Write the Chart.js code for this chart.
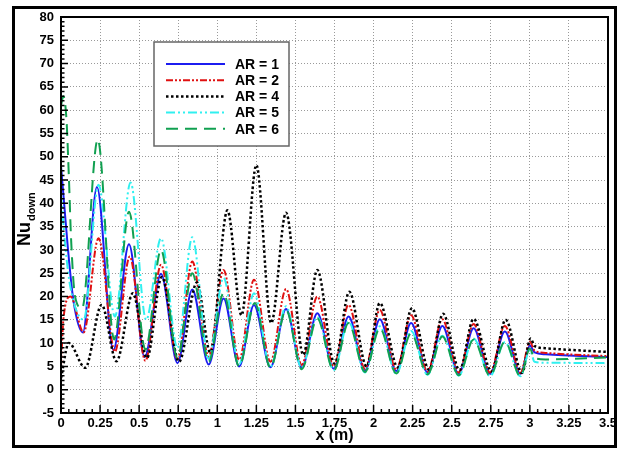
<!DOCTYPE html>
<html>
<head>
<meta charset="utf-8">
<script src="https://cdn.jsdelivr.net/npm/chart.js@4.4.1/dist/chart.umd.min.js"></script>
<style>
html, body { margin: 0; padding: 0; background: #fff; }
#wrap { width: 623px; height: 449px; }
</style>
</head>
<body>
<div id="wrap"><canvas id="chart" width="623" height="449"></canvas></div>
<script>
// values: x (m) vs Nu_down, peaks and troughs
const ar1X = [0, 0.02, 0.045, 0.08, 0.14, 0.23, 0.335, 0.435, 0.535, 0.64, 0.745, 0.84, 0.945, 1.04, 1.14, 1.235, 1.34, 1.44, 1.54, 1.64, 1.745, 1.84, 1.945, 2.04, 2.145, 2.24, 2.345, 2.44, 2.545, 2.64, 2.745, 2.84, 2.94, 3.0, 3.03, 3.1, 3.5];
const ar1Y = [48, 40, 30, 19, 12.3, 43.5, 8.5, 31.2, 7, 24.9, 5.7, 21.5, 5.4, 19.6, 5, 18.2, 4.8, 17.3, 4.7, 16.4, 4.5, 15.7, 4.1, 15.1, 4, 14.3, 3.7, 13.7, 3.4, 13.2, 3.4, 12.5, 3.4, 9.5, 8.0, 7.6, 7.0];

const ar2X = [0, 0.015, 0.06, 0.145, 0.24, 0.345, 0.44, 0.54, 0.64, 0.745, 0.84, 0.945, 1.04, 1.14, 1.235, 1.34, 1.44, 1.54, 1.64, 1.745, 1.84, 1.945, 2.04, 2.145, 2.24, 2.345, 2.44, 2.545, 2.64, 2.745, 2.84, 2.94, 3.0, 3.03, 3.1, 3.5];
const ar2Y = [5, 15, 20, 12.3, 32.5, 8.2, 28.6, 6.2, 26.8, 6.6, 27.5, 7.1, 25.7, 6.4, 23.6, 6, 21.6, 5.3, 20, 5, 18.2, 4.5, 17.1, 4.3, 16, 3.9, 15.1, 3.7, 14.1, 3.7, 13.7, 3.6, 10.3, 8.4, 7.9, 7.2];

const ar4X = [0, 0.05, 0.155, 0.26, 0.355, 0.46, 0.55, 0.645, 0.755, 0.87, 0.955, 1.065, 1.155, 1.25, 1.345, 1.44, 1.55, 1.64, 1.75, 1.845, 1.955, 2.04, 2.155, 2.245, 2.355, 2.445, 2.55, 2.64, 2.755, 2.845, 2.95, 3.005, 3.03, 3.1, 3.5];
const ar4Y = [2.5, 10, 4.7, 18.2, 6.1, 20.7, 6.8, 24.2, 6, 23, 8, 38.5, 16, 48.2, 14.3, 38, 7.5, 25.7, 5.6, 21, 5, 18.6, 4.8, 17.5, 4.3, 16.3, 4.2, 15.2, 3.9, 15, 3.6, 11, 9.4, 8.9, 8.1];

const ar5X = [0, 0.03, 0.06, 0.145, 0.24, 0.345, 0.445, 0.545, 0.64, 0.745, 0.84, 0.945, 1.04, 1.14, 1.235, 1.34, 1.44, 1.54, 1.64, 1.745, 1.84, 1.945, 2.04, 2.145, 2.24, 2.345, 2.44, 2.545, 2.64, 2.745, 2.84, 2.94, 3.0, 3.03, 3.1, 3.5];
const ar5Y = [42, 30, 22, 15, 44, 15.7, 44.5, 15, 32.5, 9, 32.7, 6.6, 24, 5.5, 20.7, 5, 17.9, 4.7, 15.6, 4.2, 14.6, 3.7, 13.6, 3.4, 12.6, 3.2, 11.6, 3, 11, 2.9, 10.2, 2.9, 8.5, 6, 5.8, 5.7];

const ar6X = [0, 0.015, 0.035, 0.05, 0.065, 0.09, 0.135, 0.235, 0.34, 0.435, 0.54, 0.64, 0.745, 0.84, 0.945, 1.04, 1.14, 1.24, 1.34, 1.44, 1.54, 1.64, 1.745, 1.84, 1.945, 2.04, 2.145, 2.24, 2.345, 2.44, 2.545, 2.64, 2.745, 2.84, 2.94, 3.0, 3.03, 3.1, 3.5];
const ar6Y = [61, 63, 58, 46, 32, 20, 17.5, 53.7, 10.8, 38.2, 8.6, 30, 6.8, 25, 6, 20.7, 5, 18.6, 4.7, 17.1, 4.4, 15.3, 4.1, 14.3, 3.8, 13.2, 3.5, 12.1, 3.3, 11.4, 3.1, 10.8, 3, 10.3, 2.9, 8.8, 6.8, 6.5, 6.9];

const seriesNames = ['AR = 1', 'AR = 2', 'AR = 4', 'AR = 5', 'AR = 6'];
const xTickLabels = ['0', '0.25', '0.5', '0.75', '1', '1.25', '1.5', '1.75', '2', '2.25', '2.5', '2.75', '3', '3.25', '3.5'];

const FONT = '"Liberation Sans", Arial, sans-serif';

function pts(xs, ys) {
    return xs.map((x, i) => ({ x: x, y: ys[i] }));
}

function lineSet(label, xs, ys, color, dash, width, order) {
    return {
        label: label,
        data: pts(xs, ys),
        borderColor: color,
        borderWidth: width,
        borderDash: dash,
        pointRadius: 0,
        fill: false,
        cubicInterpolationMode: 'monotone',
        order: order
    };
}

// frame, inward ticks, axis titles and the boxed legend
const decor = {
    id: 'decor',
    afterDraw(chart) {
        const ctx = chart.ctx;
        const a = chart.chartArea;
        const x = chart.scales.x, y = chart.scales.y;
        ctx.save();

        ctx.strokeStyle = '#000';
        ctx.lineWidth = 3;
        ctx.strokeRect(13.5, 7.5, 602, 439);

        ctx.lineWidth = 2;
        ctx.strokeRect(a.left, a.top, a.right - a.left, a.bottom - a.top);

        ctx.lineWidth = 1.5;
        ctx.beginPath();
        for (let i = 0; i <= 70; i++) {
            const px = x.getPixelForValue(i * 0.05);
            const len = i % 5 === 0 ? 8 : 4;
            ctx.moveTo(px, a.bottom);
            ctx.lineTo(px, a.bottom - len);
        }
        for (let v = -5; v <= 80; v++) {
            const py = y.getPixelForValue(v);
            const len = v % 5 === 0 ? 7 : 3.5;
            ctx.moveTo(a.left, py);
            ctx.lineTo(a.left + len, py);
        }
        ctx.stroke();

        ctx.fillStyle = '#000';
        ctx.font = 'bold 16px ' + FONT;
        ctx.textAlign = 'center';
        ctx.textBaseline = 'middle';
        ctx.fillText('x (m)', (a.left + a.right) / 2, 436);

        ctx.save();
        ctx.translate(30, 246);
        ctx.rotate(-Math.PI / 2);
        ctx.textAlign = 'left';
        ctx.textBaseline = 'alphabetic';
        ctx.font = 'bold 18px ' + FONT;
        ctx.fillText('Nu', 0, 0);
        const w = ctx.measureText('Nu').width;
        ctx.font = 'bold 11px ' + FONT;
        ctx.fillText('down', w + 1, 5);
        ctx.restore();

        // legend
        ctx.fillStyle = '#fff';
        ctx.fillRect(154, 42, 135, 104);
        ctx.strokeStyle = '#666';
        ctx.lineWidth = 1.5;
        ctx.strokeRect(154, 42, 135, 104);
        chart.data.datasets.forEach((ds, i) => {
            const ly = 64 + i * 16.2;
            ctx.strokeStyle = ds.borderColor;
            ctx.lineWidth = ds.borderWidth;
            ctx.setLineDash(ds.borderDash || []);
            ctx.beginPath();
            ctx.moveTo(166, ly);
            ctx.lineTo(225, ly);
            ctx.stroke();
            ctx.setLineDash([]);
            ctx.fillStyle = '#000';
            ctx.font = 'bold 14px ' + FONT;
            ctx.textAlign = 'left';
            ctx.textBaseline = 'middle';
            ctx.fillText(ds.label, 235, ly + 1);
        });

        ctx.restore();
    }
};

const tickFont = { family: FONT, size: 13, weight: 'bold' };

new Chart(document.getElementById('chart'), {
    type: 'line',
    data: {
        datasets: [
            lineSet(seriesNames[0], ar1X, ar1Y, '#1c1cf0', [], 2, 5),
            lineSet(seriesNames[1], ar2X, ar2Y, '#e01010', [7, 2, 2, 2, 2, 2], 2, 4),
            lineSet(seriesNames[2], ar4X, ar4Y, '#000000', [2.5, 2.5], 2.5, 3),
            lineSet(seriesNames[3], ar5X, ar5Y, '#30f0f0', [9, 3, 2, 3, 2, 3], 2, 2),
            lineSet(seriesNames[4], ar6X, ar6Y, '#10a050', [12, 7], 2, 1)
        ]
    },
    options: {
        responsive: false,
        animation: false,
        layout: { padding: { left: 0, top: 17, right: 15, bottom: 0 } },
        plugins: {
            legend: { display: false },
            tooltip: { enabled: false }
        },
        scales: {
            x: {
                type: 'linear',
                min: 0,
                max: 3.5,
                ticks: {
                    stepSize: 0.25,
                    autoSkip: false,
                    maxRotation: 0,
                    padding: 3,
                    color: '#000',
                    font: tickFont,
                    callback: (v, i) => xTickLabels[i]
                },
                grid: { color: '#9a9a9a', lineWidth: 1, drawTicks: false },
                border: { display: false, dash: [1, 2] },
                afterFit: s => { s.height = 36; }
            },
            y: {
                min: -5,
                max: 80,
                ticks: {
                    stepSize: 5,
                    padding: 7,
                    color: '#000',
                    font: tickFont
                },
                grid: { color: '#9a9a9a', lineWidth: 1, drawTicks: false },
                border: { display: false, dash: [1, 2] },
                afterFit: s => { s.width = 61; }
            }
        }
    },
    plugins: [decor]
});
</script>
</body>
</html>
